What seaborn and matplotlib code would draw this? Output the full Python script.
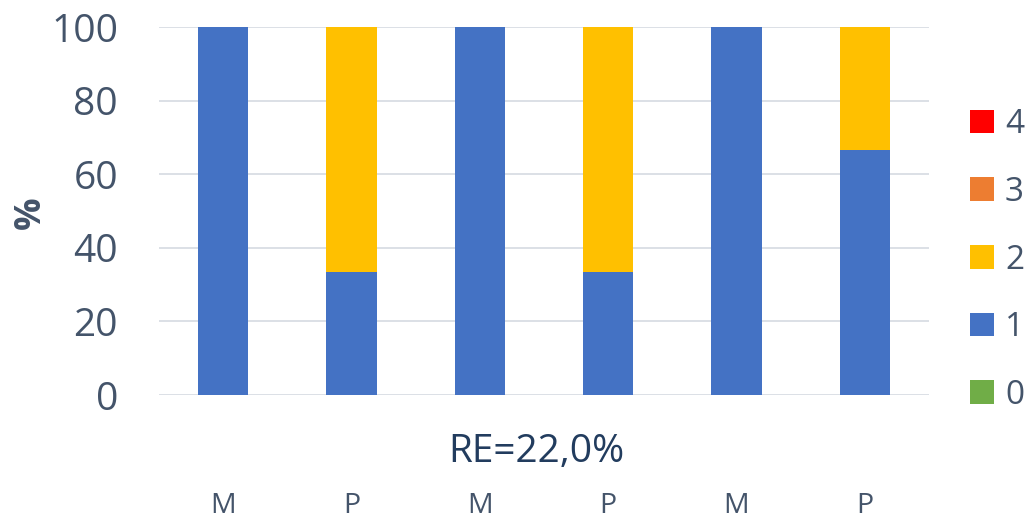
import matplotlib
matplotlib.use("Agg")
import matplotlib.pyplot as plt
from matplotlib.patches import Patch
import numpy as np
import pandas as pd
import seaborn as sns

# Data: share (%) of each score level per group
categories = ["M", "P", "M", "P", "M", "P"]
levels = ["0", "1", "2", "3", "4"]
level_0 = [0, 0, 0, 0, 0, 0]
level_1 = [100, 33.3, 100, 33.3, 100, 66.7]
level_2 = [0, 66.7, 0, 66.7, 0, 33.3]
level_3 = [0, 0, 0, 0, 0, 0]
level_4 = [0, 0, 0, 0, 0, 0]
y_ticks = [0, 20, 40, 60, 80, 100]
note = "RE=22,0%"

colors = {"0": "#70AD47", "1": "#4472C4", "2": "#FFC000", "3": "#ED7D31", "4": "#FF0000"}
label_color = "#44546A"

sns.set_theme(style="white")
plt.rcParams["font.family"] = ["Open Sans", "DejaVu Sans"]

fig = plt.figure(figsize=(10.33, 5.23), dpi=100)
ax = fig.add_axes([159 / 1033, 1 - 395 / 523, 770 / 1033, 368 / 523])

series = [level_0, level_1, level_2, level_3, level_4]
df = pd.DataFrame({"slot": list(range(len(categories)))})
bottom = np.zeros(len(categories))
for lvl, vals in zip(levels, series):
    df["value"] = vals
    sns.barplot(data=df, x="slot", y="value", color=colors[lvl], width=0.39,
                errorbar=None, bottom=bottom.copy(), saturation=1,
                linewidth=0, ax=ax)
    bottom += np.array(vals, dtype=float)

ax.set_ylim(0, 100)
ax.set_xlim(-0.5, len(categories) - 0.5)
ax.set_yticks(y_ticks)
ax.set_yticklabels([str(t) for t in y_ticks])
ax.set_xticks(range(len(categories)))
ax.set_xticklabels(categories)
ax.set_xlabel("")
ax.set_axisbelow(True)
ax.yaxis.grid(True, color="#DCE0E6", linewidth=1.4)
ax.xaxis.grid(False)
for s in ax.spines.values():
    s.set_visible(False)

ax.tick_params(axis="y", length=0, pad=29.5, labelsize=28, labelcolor=label_color)
ax.tick_params(axis="x", length=0, pad=70, labelsize=20.5, labelcolor=label_color)

ax.set_ylabel("%", fontsize=26, fontweight="bold", color=label_color,
              rotation=90, ha="center", va="center")
ax.yaxis.set_label_coords(-0.166, 0.495)

fig.text(536 / 1033, 1 - 462 / 523, note, fontsize=28, color="#223C5E",
         ha="center", va="baseline")

handles = [Patch(facecolor=colors[l], edgecolor="none", label=l) for l in reversed(levels)]
fig.legend(handles=handles, loc="center left", bbox_to_anchor=(970 / 1033, 1 - 260 / 523),
           frameon=False, fontsize=24, labelcolor=label_color, borderpad=0,
           borderaxespad=0, handlelength=0.72, handleheight=0.72,
           handletextpad=0.33, labelspacing=1.04)

fig.savefig("out.png", dpi=100)
